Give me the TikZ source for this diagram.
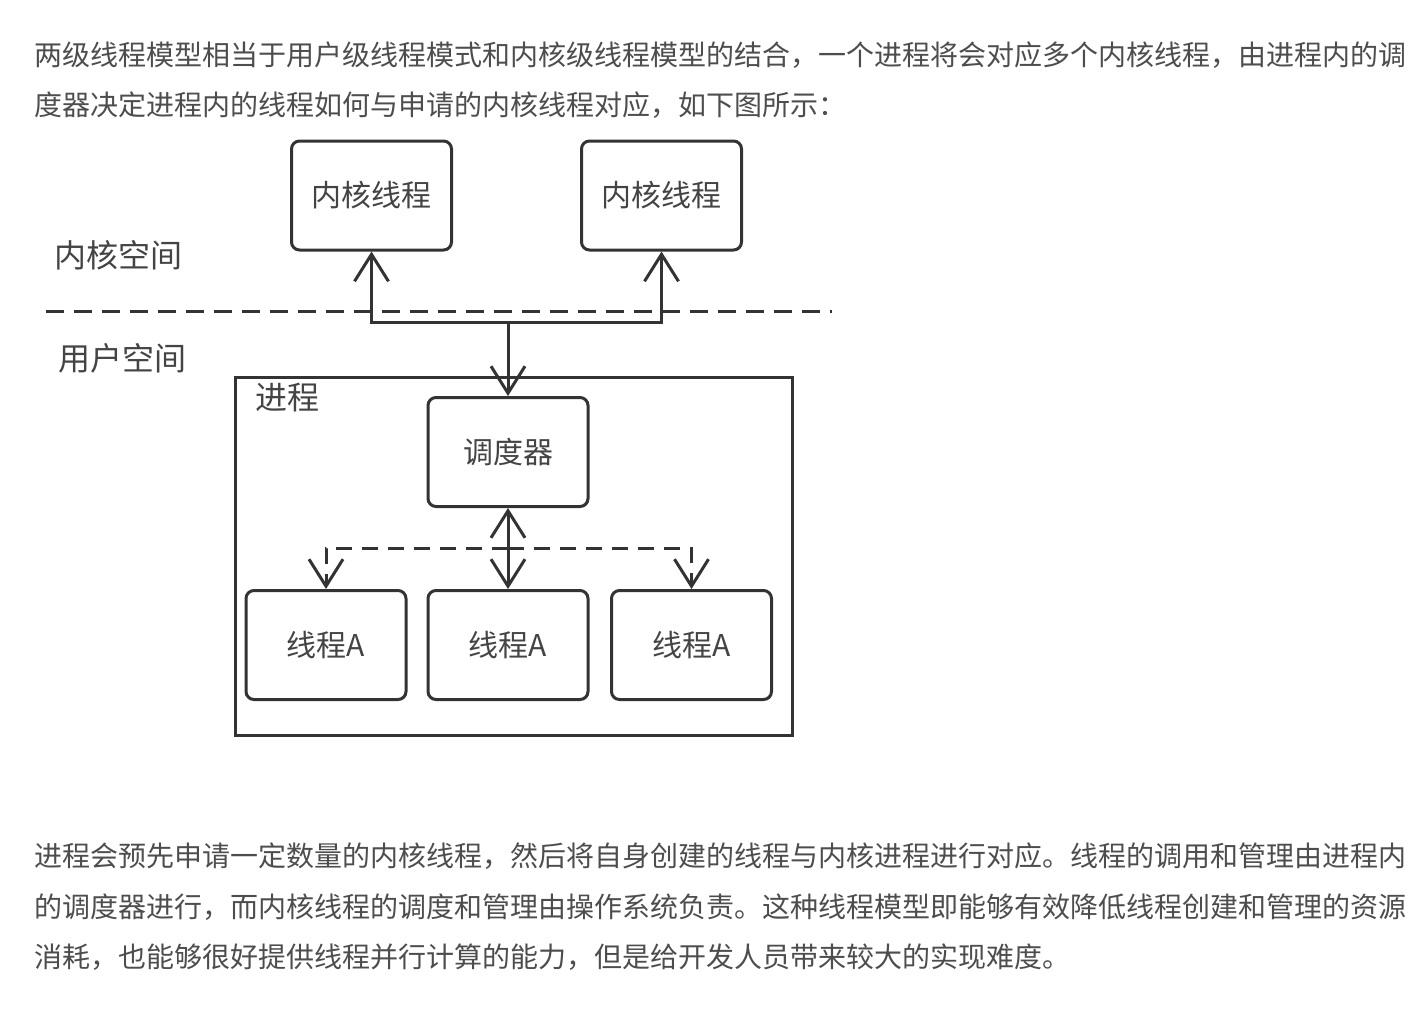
\documentclass[tikz,border=0pt]{standalone}
\usepackage{fontspec}
\setmainfont{Noto Sans CJK SC}
\usetikzlibrary{arrows.meta}

\definecolor{linegray}{HTML}{333333}
\definecolor{textgray}{HTML}{444444}
\definecolor{paragray}{HTML}{4D4D4D}

\tikzset{
  box/.style={draw=linegray, rounded corners=4pt, minimum width=80pt, minimum height=54.5pt,
    text=textgray, font=\fontsize{15}{15}\selectfont},
  spacelabel/.style={anchor=west, inner sep=0pt, text=textgray, font=\fontsize{16}{16}\selectfont},
  paraline/.style={anchor=west, inner sep=0pt, text=paragray, font=\fontsize{14}{14}\selectfont},
}

\begin{document}
\begin{tikzpicture}[x=0.5pt, y=-0.5pt, line width=1.5pt, color=linegray,
  >={Straight Barb[length=13.5pt, width=17pt]}]
% page
\fill[white] (0,0) rectangle (1428,1008);
\useasboundingbox (0,0) rectangle (1428,1008);

% text above
\node[paraline] (P1) at (33,55) {两级线程模型相当于用户级线程模式和内核级线程模型的结合，一个进程将会对应多个内核线程，由进程内的调};
\node[paraline] (P2) at (33,105) {度器决定进程内的线程如何与申请的内核线程对应，如下图所示：};

% spaces
\coordinate (DL) at (46,311);
\coordinate (DR) at (832,311);
\draw[dash pattern=on 9pt off 5pt] (DL) -- (DR);
\node[spacelabel] (KS) at (53,255) {内核空间};
\node[spacelabel] (US) at (57,358) {用户空间};

% kernel threads
\node[box] (kt1) at (371.5,195.5) {内核线程};
\node[box] (kt2) at (661.5,195.5) {内核线程};

% process
\node[draw=linegray, sharp corners, minimum width=278.5pt, minimum height=179pt] (proc) at (513.5,556) {};
\node[spacelabel] (PL) at (254,398) {进程};
\node[box] (sched) at (508,452) {调度器};
\node[box] (th1) at (326,645) {线程A};
\node[box] (th2) at (508,645) {线程A};
\node[box] (th3) at (691.5,645) {线程A};

% arrows
\coordinate (bus) at (508,322);
\draw[->] (bus) -| (kt1.south);
\draw[->] (bus) -| (kt2.south);
\draw[->] (bus) -- (sched.north);

\draw[<->] (sched.south) -- (th2.north);
\coordinate (dbus) at (508,548);
\draw[->, dash pattern=on 8pt off 5pt] (dbus) -| (th1.north);
\draw[->, dash pattern=on 8pt off 5pt] (dbus) -| (th3.north);

% text below
\node[paraline] (P3) at (33,856) {进程会预先申请一定数量的内核线程，然后将自身创建的线程与内核进程进行对应。线程的调用和管理由进程内};
\node[paraline] (P4) at (33,907) {的调度器进行，而内核线程的调度和管理由操作系统负责。这种线程模型即能够有效降低线程创建和管理的资源};
\node[paraline] (P5) at (33,957) {消耗，也能够很好提供线程并行计算的能力，但是给开发人员带来较大的实现难度。};
\end{tikzpicture}
\end{document}
